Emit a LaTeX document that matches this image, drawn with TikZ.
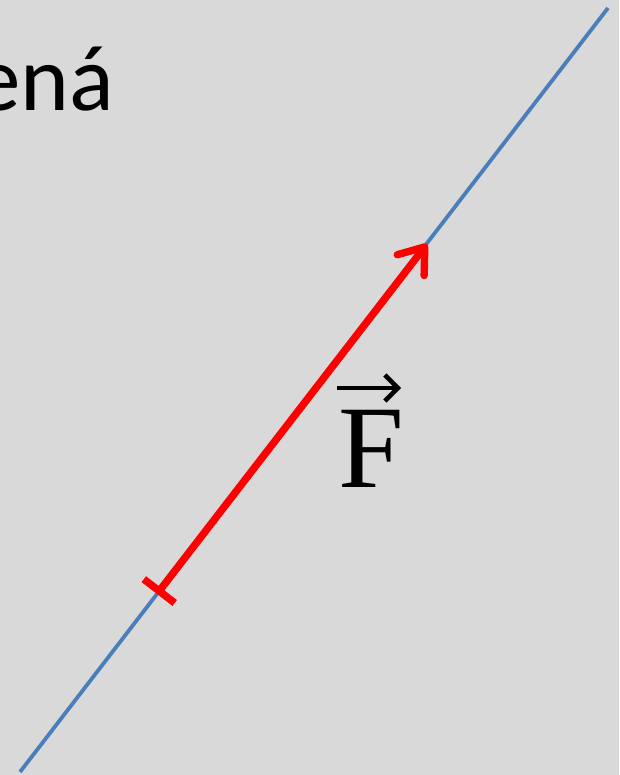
\documentclass[tikz,border=0pt]{standalone}
\usepackage{fontspec}
\setmainfont{Carlito}
\newfontfamily\serifF{Liberation Serif}
\usetikzlibrary{arrows.meta}
\definecolor{bgcol}{HTML}{D9D9D9}
\definecolor{linecol}{HTML}{4A7EBB}
\definecolor{forcecol}{HTML}{FF0000}
\tikzset{
  axisline/.style={draw=linecol, line width=3.8pt},
  forcevec/.style={draw=forcecol, line width=7.4pt,
    {Bar[width=39pt,line width=7.4pt]}-{Straight Barb[length=23pt,width=34pt,line width=7.4pt,round]}},
  vecarrow/.style={draw=black, line width=4.5pt,
    -{Straight Barb[length=13pt,width=26pt,line width=4.5pt]}},
  bigtext/.style={inner sep=0pt, font=\fontsize{93}{100}\selectfont},
  veclabel/.style={inner sep=0pt, font=\fontsize{118}{130}\serifF}
}
\begin{document}
\begin{tikzpicture}[x=1pt,y=1pt]
  \fill[bgcol] (0,0) rectangle (619,775);
  \useasboundingbox (0,0) rectangle (619,775);
  \clip (0,0) rectangle (619,775);
  \coordinate (b1) at (20,3);
  \coordinate (b2) at (608,767);
  \coordinate (r1) at (157,181);
  \coordinate (r2) at (427,531);
  \coordinate (v1) at (337,387);
  \coordinate (v2) at (401,387);
  \draw[axisline] (b1) -- (b2);
  \draw[forcevec] (r1) -- (r2);
  \node[bigtext, anchor=base east] (t) at (114,664) {ená};
  \node[veclabel, anchor=base] (f) at (371,287) {F};
  \draw[vecarrow] (v1) -- (v2);
\end{tikzpicture}
\end{document}
